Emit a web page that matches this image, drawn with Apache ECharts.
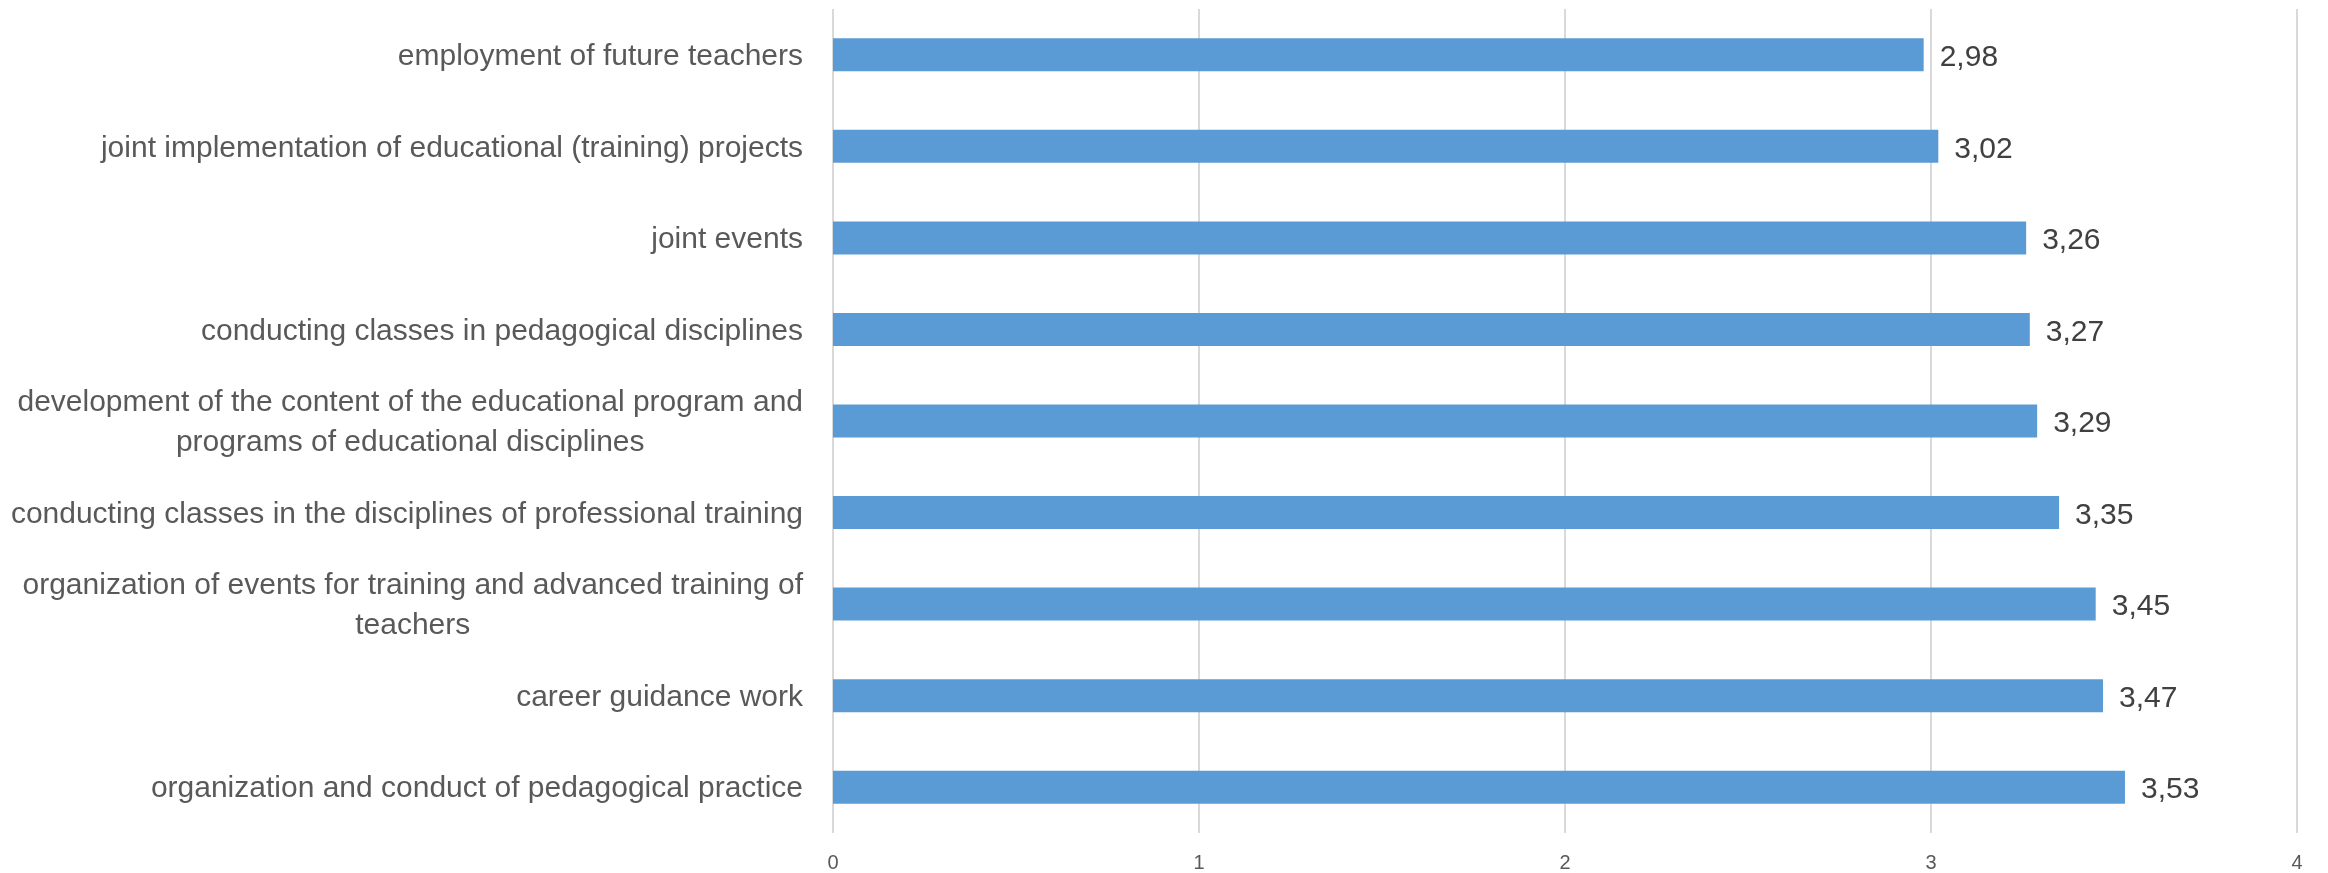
<!DOCTYPE html>
<html>
<head>
<meta charset="utf-8">
<script src="https://cdn.jsdelivr.net/npm/echarts@6/dist/echarts.min.js"></script>
<style>
html,body{margin:0;padding:0;background:#fff;}
#chart{width:2328px;height:873px;}
</style>
</head>
<body>
<div id="chart"></div>
<script>
const categories = [
  "employment of future teachers",
  "joint implementation of educational (training) projects",
  "joint events",
  "conducting classes in pedagogical disciplines",
  "development of the content of the educational program and\nprograms of educational disciplines",
  "conducting classes in the disciplines of professional training",
  "organization of events for training and advanced training of\nteachers",
  "career guidance work",
  "organization and conduct of pedagogical practice"
];
const values = [2.98, 3.02, 3.26, 3.27, 3.29, 3.35, 3.45, 3.47, 3.53];
const xTicks = [0, 1, 2, 3, 4];

const chart = echarts.init(document.getElementById('chart'));
const FONT = 'Liberation Sans';
chart.setOption({
  animation: false,
  grid: {left: 833, right: 31, top: 9, bottom: 40, containLabel: false},
  xAxis: {
    type: 'value',
    min: xTicks[0], max: xTicks[xTicks.length - 1], interval: 1,
    axisLine: {show: false},
    axisTick: {show: false},
    splitLine: {show: true, lineStyle: {color: '#D9D9D9', width: 2}},
    axisLabel: {color: '#595959', fontFamily: FONT, fontSize: 20, margin: 20}
  },
  yAxis: {
    type: 'category',
    inverse: true,
    data: categories,
    axisLine: {show: false},
    axisTick: {show: false},
    splitLine: {show: false},
    axisLabel: {
      color: '#595959', fontFamily: FONT, fontSize: 30, margin: 30,
      padding: [4, 0, 0, 0],
      formatter: function (v) {
        return v.split('\n').map(s => '{c|' + s + '}').join('\n');
      },
      rich: {
        c: {align: 'center', color: '#595959', fontFamily: FONT, fontSize: 30, lineHeight: 40}
      }
    }
  },
  series: [{
    type: 'bar',
    data: values,
    barWidth: 33,
    itemStyle: {color: '#5B9BD5'},
    label: {
      show: true, position: 'right', distance: 16, offset: [0, 3],
      color: '#404040', fontFamily: FONT, fontSize: 30,
      formatter: p => p.value.toFixed(2).replace('.', ',')
    }
  }]
});
</script>
</body>
</html>
